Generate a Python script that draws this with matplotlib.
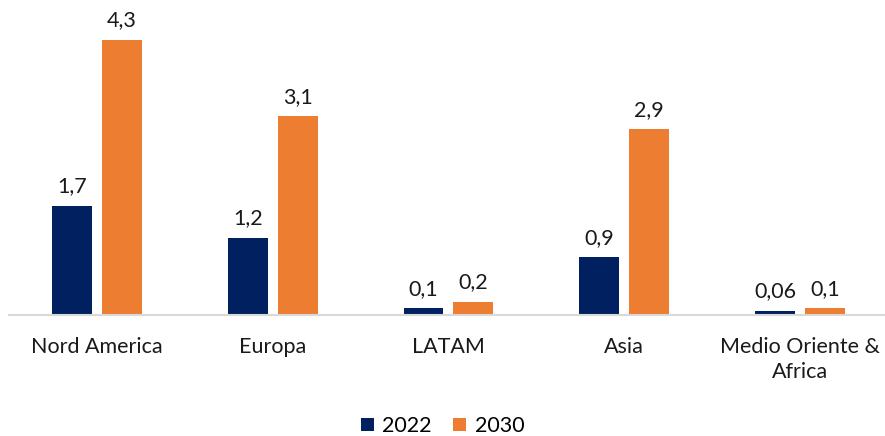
import numpy as np
import matplotlib.pyplot as plt

plt.rcParams['font.family'] = ['Lato', 'DejaVu Sans']

categories = ["Nord America", "Europa", "LATAM", "Asia", "Medio Oriente &\nAfrica"]
v2022 = [1.7, 1.2, 0.1, 0.9, 0.06]
v2030 = [4.3, 3.1, 0.2, 2.9, 0.1]
lab2022 = ["1,7", "1,2", "0,1", "0,9", "0,06"]
lab2030 = ["4,3", "3,1", "0,2", "2,9", "0,1"]

navy = "#002060"
orange = "#ED7D31"
fs = 15.5

fig = plt.figure(figsize=(8.85, 4.36), dpi=100)
ax = fig.add_axes([0.0102, 0.278, 0.993, 0.722])

x = np.arange(len(categories))
w = 0.227
off = 0.142
b1 = ax.bar(x - off, v2022, w, color=navy, label="2022")
b2 = ax.bar(x + off, v2030, w, color=orange, label="2030")

for rect, t in zip(b1, lab2022):
    ax.text(rect.get_x() + rect.get_width() / 2, rect.get_height() + 0.15, t,
            ha="center", va="bottom", fontsize=fs, color="#1a1a1a")
for rect, t in zip(b2, lab2030):
    ax.text(rect.get_x() + rect.get_width() / 2, rect.get_height() + 0.15, t,
            ha="center", va="bottom", fontsize=fs, color="#1a1a1a")

ax.set_xlim(-0.5, len(categories) - 0.5)
ax.set_ylim(0, 4.92)
ax.set_xticks(x)
ax.set_xticklabels(categories, fontsize=fs, color="#1a1a1a", linespacing=1.3)
ax.tick_params(axis="x", length=0, pad=16)
ax.set_yticks([])
for s in ["top", "right", "left"]:
    ax.spines[s].set_visible(False)
ax.spines["bottom"].set_color("#D9D9D9")
ax.spines["bottom"].set_linewidth(1.5)

fig.legend(loc="lower center", bbox_to_anchor=(0.5, -0.045), ncol=2, frameon=False,
           fontsize=fs, handlelength=0.6, handleheight=0.6, handletextpad=0.4,
           columnspacing=1.0)

fig.savefig("out.png", dpi=100)
